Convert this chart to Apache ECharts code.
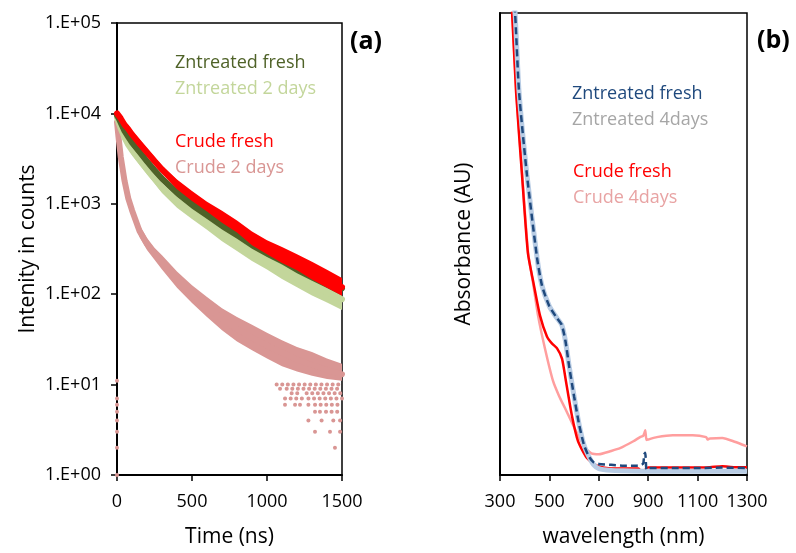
<!DOCTYPE html>
<html>
<head>
<meta charset="utf-8">
<script src="https://cdn.jsdelivr.net/npm/echarts@6/dist/echarts.min.js"></script>
<style>
  html, body { margin: 0; padding: 0; background: #fff; }
  #chart { width: 796px; height: 553px; }
</style>
</head>
<body>
<div id="chart"></div>
<script>
// ---- (a) time-resolved PL decay: counts vs time (ns) ----
const timeNs = [0, 10, 25, 50, 75, 100, 150, 200, 250, 300, 400, 500, 600, 700, 800, 900, 1000, 1100, 1200, 1300, 1400, 1500];

// band centre and scatter envelope (counts) per sample
const crudeFreshMid = [10000, 9500, 8800, 7500, 6700, 5850, 4650, 3720, 2970, 2400, 1640, 1220, 930, 720, 560, 415, 330, 272, 225, 182, 148, 120];
const crudeFreshHi  = [10500, 10250, 9500, 8100, 7420, 6480, 5150, 4120, 3290, 2660, 1860, 1385, 1055, 838, 652, 495, 394, 333, 276, 229, 186, 151];
const crudeFreshLo  = [9000, 8800, 8150, 6950, 6050, 5280, 4200, 3360, 2680, 2170, 1445, 1075, 820, 619, 481, 348, 276, 222, 184, 145, 118, 96];

const znFreshMid = [9500, 8900, 7900, 6400, 5500, 4750, 3750, 2950, 2350, 1900, 1330, 1000, 770, 590, 465, 370, 300, 248, 203, 168, 140, 116];
const znFreshHi  = [10250, 9600, 8520, 6900, 5930, 5260, 4150, 3265, 2600, 2100, 1470, 1135, 874, 670, 528, 430, 349, 289, 242, 200, 167, 139];
const znFreshLo  = [8800, 8250, 7320, 5930, 5100, 4290, 3390, 2665, 2120, 1715, 1200, 880, 678, 520, 410, 318, 258, 213, 170, 141, 117, 97];

const zn2dMid = [9000, 8000, 6800, 5400, 4500, 3900, 3050, 2400, 1900, 1500, 1050, 790, 600, 460, 360, 285, 230, 185, 150, 125, 105, 88];
const zn2dHi  = [9960, 8860, 7530, 5980, 4980, 4430, 3460, 2725, 2155, 1700, 1220, 920, 698, 549, 430, 349, 282, 232, 188, 161, 135, 116];
const zn2dLo  = [8130, 7230, 6140, 4880, 4065, 3440, 2690, 2115, 1675, 1320, 902, 679, 515, 385, 301, 233, 188, 147, 119, 97, 81, 67];

const crude2dMid = [8000, 5500, 3300, 1800, 1150, 850, 500, 360, 280, 225, 145, 100, 72, 53, 41, 33, 27, 22.5, 19, 16.5, 14.5, 13];
const crude2dHi  = [9080, 6240, 3745, 2045, 1305, 965, 582, 419, 326, 269, 178, 126, 93, 70, 56, 46, 37.5, 31, 26, 23, 19.5, 17];
const crude2dLo  = [7050, 4850, 2910, 1585, 1015, 750, 430, 309, 241, 188, 118, 80, 56, 40, 30, 24, 19.5, 16, 14, 12.5, 11.5, 11];

// low-count events of the aged crude sample: [counts, t start, t end]
const crude2dLowRows = [
  [10, 1064, 1500], [9, 1087, 1087], [9, 1131, 1500],
  [8, 1164, 1230], [8, 1264, 1500], [7, 1120, 1242], [7, 1276, 1500],
  [6, 1120, 1120], [6, 1187, 1187], [6, 1220, 1220], [6, 1276, 1276], [6, 1320, 1500],
  [5, 1320, 1320], [5, 1353, 1353], [5, 1393, 1500],
  [4, 1276, 1276], [4, 1364, 1364], [4, 1442, 1442], [4, 1487, 1487],
  [3, 1320, 1320], [3, 1420, 1420], [3, 1487, 1487], [2, 1453, 1453],
  [11, 0, 0], [7, 0, 0], [6, 0, 0], [5, 0, 0], [4, 0, 0], [3, 0, 0], [2, 0, 0], [1, 0, 0]
];

const decayTicks = ['1.E+00', '1.E+01', '1.E+02', '1.E+03', '1.E+04', '1.E+05'];

// ---- (b) absorption spectra ----
const wlZnFresh  = [352, 361, 377, 409, 450, 470, 500, 530, 550, 565, 580, 600, 620, 640, 660, 680, 700, 750, 800, 850, 870, 880, 884, 888, 892, 896, 900, 1000, 1100, 1200, 1300];
const absZnFresh = [1.04, 1.0, 0.83, 0.65, 0.47, 0.41, 0.365, 0.34, 0.325, 0.29, 0.235, 0.17, 0.11, 0.065, 0.04, 0.027, 0.024, 0.022, 0.02, 0.02, 0.022, 0.025, 0.045, 0.048, 0.015, 0.012, 0.015, 0.015, 0.015, 0.016, 0.015];

const wlZn4d  = [352, 361, 377, 409, 450, 470, 500, 530, 550, 565, 580, 600, 620, 640, 660, 680, 700, 750, 800, 900, 1000, 1100, 1200, 1300];
const absZn4d = [1.04, 1.0, 0.83, 0.65, 0.47, 0.41, 0.365, 0.34, 0.325, 0.29, 0.235, 0.17, 0.11, 0.065, 0.04, 0.022, 0.014, 0.01, 0.009, 0.008, 0.008, 0.008, 0.008, 0.008];

const wlCrudeFresh  = [343, 349, 365, 389, 413, 434, 462, 490, 510, 531, 551, 567, 591, 616, 652, 697, 750, 800, 860, 875, 885, 900, 1000, 1100, 1150, 1200, 1250, 1300];
const absCrudeFresh = [1.04, 1.0, 0.83, 0.65, 0.48, 0.42, 0.345, 0.30, 0.285, 0.274, 0.252, 0.203, 0.129, 0.073, 0.037, 0.019, 0.014, 0.014, 0.014, 0.007, 0.01, 0.016, 0.016, 0.016, 0.017, 0.019, 0.017, 0.017];

const wlCrude4d  = [344, 350, 366, 390, 414, 434, 454, 482, 515, 540, 563, 603, 644, 670, 700, 750, 786, 840, 867, 880, 884, 888, 893, 900, 935, 1000, 1080, 1135, 1140, 1150, 1200, 1250, 1300];
const absCrude4d = [1.04, 1.0, 0.83, 0.65, 0.48, 0.415, 0.345, 0.274, 0.203, 0.17, 0.145, 0.10, 0.059, 0.047, 0.045, 0.052, 0.058, 0.073, 0.082, 0.085, 0.09, 0.097, 0.076, 0.077, 0.082, 0.086, 0.086, 0.082, 0.077, 0.079, 0.08, 0.072, 0.062];

const wlTicks = [300, 500, 700, 900, 1100, 1300];

// ---- styling ----
const FONT = 'Open Sans';
const C = {
  znFresh: '#4f6228', zn2d: '#c3d69b', crudeFresh: '#ff0000', crude2d: '#d99694',
  bZnFresh: '#1f497d', bZn4d: '#b8cce4', bZn4dText: '#a6a6a6', bCrude4d: '#ff9e9e', bCrude4dText: '#e8a3a3'
};

function pairs(xs, ys) { return xs.map((x, i) => [x, ys[i]]); }

// scatter band: filled envelope plus a thick centre trace
function decayBand(name, mid, lo, hi, color) {
  return {
    type: 'custom', name, xAxisIndex: 0, yAxisIndex: 0, silent: true,
    data: [[timeNs[0], mid[0]]],
    renderItem(params, api) {
      const top = timeNs.map((t, i) => api.coord([t, hi[i]]));
      const bot = timeNs.map((t, i) => api.coord([t, lo[i]])).reverse();
      const centre = timeNs.map((t, i) => api.coord([t, mid[i]]));
      return {
        type: 'group',
        children: [
          { type: 'polygon', shape: { points: top.concat(bot) }, style: { fill: color } },
          { type: 'polyline', shape: { points: centre }, style: { stroke: color, lineWidth: 6, fill: null, lineJoin: 'round', lineCap: 'round' } }
        ]
      };
    }
  };
}

function legendText(text, x, y, color) {
  return { type: 'text', left: x, top: y, style: { text, fill: color, font: '18px "' + FONT + '"', textVerticalAlign: 'middle' } };
}

const axisTitle = { color: '#000', fontFamily: FONT, fontSize: 21 };
const tickLabel = { color: '#000', fontFamily: FONT, fontSize: 18 };
const plainNumber = v => String(v);

const option = {
  animation: false,
  backgroundColor: '#fff',
  grid: [
    { left: 117, top: 23, width: 225, height: 454, show: true, borderColor: '#000', borderWidth: 1.5, backgroundColor: 'transparent' },
    { left: 500, top: 13, width: 247, height: 464, show: true, borderColor: '#000', borderWidth: 1.5, backgroundColor: 'transparent' }
  ],
  xAxis: [
    {
      gridIndex: 0, type: 'value', min: 0, max: 1500, interval: 500,
      name: 'Time (ns)', nameLocation: 'middle', nameGap: 52, nameTextStyle: axisTitle,
      axisLine: { lineStyle: { color: '#000', width: 2 } },
      axisTick: { show: true, inside: false, length: 6, lineStyle: { color: '#000', width: 1.5 } },
      axisLabel: Object.assign({ margin: 18, formatter: plainNumber }, tickLabel),
      splitLine: { show: false }
    },
    {
      gridIndex: 1, type: 'value', min: wlTicks[0], max: wlTicks[wlTicks.length - 1], interval: 200,
      name: 'wavelength (nm)', nameLocation: 'middle', nameGap: 52, nameTextStyle: axisTitle,
      axisLine: { lineStyle: { color: '#000', width: 2 } },
      axisTick: { show: true, inside: false, length: 6, lineStyle: { color: '#000', width: 1.5 } },
      axisLabel: Object.assign({ margin: 18, formatter: plainNumber }, tickLabel),
      splitLine: { show: false }
    }
  ],
  yAxis: [
    {
      gridIndex: 0, type: 'log', logBase: 10, min: 1, max: 100000, splitNumber: 5,
      name: 'Intenity in counts', nameLocation: 'middle', nameGap: 78, nameRotate: 90, nameTextStyle: axisTitle,
      axisLine: { show: true, lineStyle: { color: '#000', width: 2 } },
      axisTick: { show: true, inside: false, length: 6, lineStyle: { color: '#000', width: 1.5 } },
      axisLabel: Object.assign({
        margin: 16,
        formatter: v => decayTicks[Math.round(Math.log10(v))]
      }, tickLabel),
      splitLine: { show: false }
    },
    {
      gridIndex: 1, type: 'value', min: 0, max: 1,
      name: 'Absorbance (AU)', nameLocation: 'middle', nameGap: 25, nameRotate: 90, nameTextStyle: axisTitle,
      axisLine: { show: true, lineStyle: { color: '#000', width: 2 } },
      axisTick: { show: false }, axisLabel: { show: false },
      splitLine: { show: false }
    }
  ],
  series: [
    decayBand('Crude 2 days', crude2dMid, crude2dLo, crude2dHi, C.crude2d),
    {
      type: 'custom', name: 'Crude 2 days low counts', xAxisIndex: 0, yAxisIndex: 0, silent: true,
      data: crude2dLowRows,
      encode: { x: [1, 2], y: 0 },
      renderItem(params, api) {
        const p0 = api.coord([api.value(1), api.value(0)]);
        const p1 = api.coord([api.value(2), api.value(0)]);
        if (api.value(1) === api.value(2)) {
          return { type: 'circle', shape: { cx: p0[0], cy: p0[1], r: 2 }, style: { fill: C.crude2d } };
        }
        return {
          type: 'line', shape: { x1: p0[0], y1: p0[1], x2: p1[0], y2: p1[1] },
          style: { stroke: C.crude2d, lineWidth: 4, lineCap: 'round', lineDash: [0.1, 5.5] }
        };
      }
    },
    decayBand('Zntreated 2 days', zn2dMid, zn2dLo, zn2dHi, C.zn2d),
    decayBand('Zntreated fresh', znFreshMid, znFreshLo, znFreshHi, C.znFresh),
    decayBand('Crude fresh', crudeFreshMid, crudeFreshLo, crudeFreshHi, C.crudeFresh),

    { type: 'line', name: 'Crude 4days', xAxisIndex: 1, yAxisIndex: 1, data: pairs(wlCrude4d, absCrude4d),
      showSymbol: false, smooth: 0.2, lineStyle: { color: C.bCrude4d, width: 2.5 } },
    { type: 'line', name: 'Crude fresh', xAxisIndex: 1, yAxisIndex: 1, data: pairs(wlCrudeFresh, absCrudeFresh),
      showSymbol: false, smooth: 0.2, lineStyle: { color: C.crudeFresh, width: 2.5 } },
    { type: 'line', name: 'Zntreated 4days', xAxisIndex: 1, yAxisIndex: 1, data: pairs(wlZn4d, absZn4d),
      showSymbol: false, smooth: 0.2, lineStyle: { color: C.bZn4d, width: 5 } },
    { type: 'line', name: 'Zntreated fresh', xAxisIndex: 1, yAxisIndex: 1, data: pairs(wlZnFresh, absZnFresh),
      showSymbol: false, smooth: 0.2, lineStyle: { color: C.bZnFresh, width: 2.5, type: [7, 4] } }
  ],
  graphic: [
    legendText('Zntreated fresh', 175, 54, C.znFresh),
    legendText('Zntreated 2 days', 175, 80, C.zn2d),
    legendText('Crude fresh', 175, 133, C.crudeFresh),
    legendText('Crude 2 days', 175, 159, C.crude2d),
    legendText('Zntreated fresh', 572, 85, C.bZnFresh),
    legendText('Zntreated 4days', 572, 111, C.bZn4dText),
    legendText('Crude fresh', 573, 163, C.crudeFresh),
    legendText('Crude 4days', 573, 189, C.bCrude4dText),
    { type: 'text', left: 350, top: 29, style: { text: '(a)', fill: '#000', font: 'bold 25px "' + FONT + '"' } },
    { type: 'text', left: 757, top: 28, style: { text: '(b)', fill: '#000', font: 'bold 25px "' + FONT + '"' } }
  ]
};

const chart = echarts.init(document.getElementById('chart'), null, { renderer: 'canvas' });
chart.setOption(option);
</script>
</body>
</html>
